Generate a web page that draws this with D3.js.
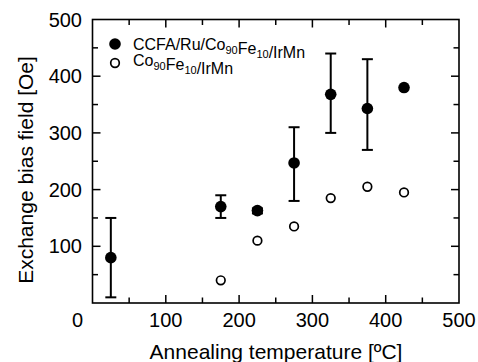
<!DOCTYPE html>
<html lang="en">
<head>
    <meta charset="UTF-8">
    <script src="https://d3js.org/d3.v7.min.js"></script>
    <style>
        body { margin: 0; background: white; font-family: "Liberation Sans", Arial, Helvetica, sans-serif; }
    </style>
</head>
<body>
    <svg id="vis"></svg>
    <script>
        // filled: CCFA/Ru/Co90Fe10/IrMn, with error bars
        const ccfaTemps = [25, 175, 225, 275, 325, 375, 425];
        const ccfaValues = [80, 170, 163, 247, 368, 343, 380];
        const ccfaLow = [10, 150, 158, 180, 300, 270, null];
        const ccfaHigh = [150, 190, 167, 310, 440, 430, null];
        // open: Co90Fe10/IrMn
        const cofeTemps = [175, 225, 275, 325, 375, 425];
        const cofeValues = [40, 110, 135, 185, 205, 195];
        const xTickLabels = [0, 100, 200, 300, 400, 500];
        const yTickLabels = [100, 200, 300, 400, 500];

        const width = 478, height = 362;
        const margin = { left: 92.5, right: 19, top: 19.5, bottom: 59 };
        const svg = d3.select("#vis").attr("width", width).attr("height", height);

        const x = d3.scaleLinear().domain([0, 500]).range([margin.left, width - margin.right]);
        const y = d3.scaleLinear().domain([0, 500]).range([height - margin.bottom, margin.top]);

        const minor = d3.range(50, 500, 100);
        const major = d3.range(100, 500, 100);

        // frame
        svg.append("rect")
            .attr("x", x(0)).attr("y", y(500))
            .attr("width", x(500) - x(0)).attr("height", y(0) - y(500))
            .attr("fill", "none").attr("stroke", "black").attr("stroke-width", 1.6);

        // inward ticks on all four sides
        const ticks = svg.append("g").attr("stroke", "black").attr("stroke-width", 1.5);
        [[major, 8], [minor, 5.5]].forEach(([vals, len]) => {
            vals.forEach(v => {
                ticks.append("line").attr("x1", x(v)).attr("x2", x(v)).attr("y1", y(0)).attr("y2", y(0) - len);
                ticks.append("line").attr("x1", x(v)).attr("x2", x(v)).attr("y1", y(500)).attr("y2", y(500) + len);
                ticks.append("line").attr("y1", y(v)).attr("y2", y(v)).attr("x1", x(0)).attr("x2", x(0) + len);
                ticks.append("line").attr("y1", y(v)).attr("y2", y(v)).attr("x1", x(500)).attr("x2", x(500) - len);
            });
        });

        // tick labels
        svg.append("g").selectAll("text").data(xTickLabels).join("text")
            .attr("x", d => x(d) + (d === 0 ? -15 : 0))
            .attr("y", 327)
            .attr("text-anchor", "middle")
            .attr("font-size", 20)
            .text(d => d);
        svg.append("g").selectAll("text").data(yTickLabels).join("text")
            .attr("x", 82)
            .attr("y", d => y(d) + 7)
            .attr("text-anchor", "end")
            .attr("font-size", 20)
            .text(d => d);

        // axis titles
        svg.append("text")
            .attr("x", 276).attr("y", 359)
            .attr("text-anchor", "middle").attr("font-size", 21)
            .text("Annealing temperature [ºC]");
        svg.append("text")
            .attr("transform", "translate(33,170) rotate(-90)")
            .attr("text-anchor", "middle").attr("font-size", 21)
            .text("Exchange bias field [Oe]");

        // error bars
        const ccfa = ccfaTemps.map((t, i) => ({ t, v: ccfaValues[i], lo: ccfaLow[i], hi: ccfaHigh[i] }));
        const err = svg.append("g").attr("stroke", "black").attr("stroke-width", 2);
        ccfa.filter(d => d.lo != null).forEach(d => {
            err.append("line").attr("x1", x(d.t)).attr("x2", x(d.t)).attr("y1", y(d.lo)).attr("y2", y(d.hi));
            [d.lo, d.hi].forEach(e => {
                err.append("line").attr("x1", x(d.t) - 5.5).attr("x2", x(d.t) + 5.5).attr("y1", y(e)).attr("y2", y(e));
            });
        });

        // points
        svg.append("g").selectAll("circle").data(ccfa).join("circle")
            .attr("cx", d => x(d.t)).attr("cy", d => y(d.v)).attr("r", 5.8)
            .attr("fill", "black");
        svg.append("g").selectAll("circle").data(cofeTemps.map((t, i) => ({ t, v: cofeValues[i] }))).join("circle")
            .attr("cx", d => x(d.t)).attr("cy", d => y(d.v)).attr("r", 4.3)
            .attr("fill", "white").attr("stroke", "black").attr("stroke-width", 1.7);

        // legend
        const legend = svg.append("g");
        legend.append("circle").attr("cx", 115).attr("cy", 44).attr("r", 5.8).attr("fill", "black");
        legend.append("circle").attr("cx", 115).attr("cy", 63).attr("r", 4.3)
            .attr("fill", "white").attr("stroke", "black").attr("stroke-width", 1.7);

        function richLabel(yPos, parts) {
            const t = legend.append("text").attr("x", 133).attr("y", yPos).attr("font-size", 16);
            parts.forEach(([s, sub]) => {
                t.append("tspan")
                    .attr("font-size", sub ? 11 : 16)
                    .attr("dy", sub ? 4 : 0)
                    .text(s);
                if (sub) t.append("tspan").attr("dy", -4).text("");
            });
        }
        richLabel(49.5, [["CCFA/Ru/Co"], ["90", true], ["Fe"], ["10", true], ["/IrMn"]]);
        richLabel(66, [["Co"], ["90", true], ["Fe"], ["10", true], ["/IrMn"]]);
    </script>
</body>
</html>
